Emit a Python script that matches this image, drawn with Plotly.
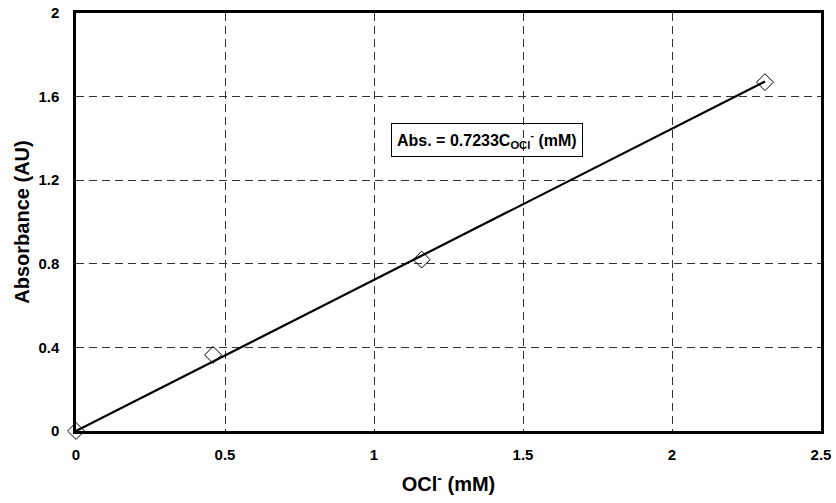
import plotly.graph_objects as go

# Calibration data: hypochlorite concentration vs absorbance
conc_mM = [0.0, 0.46, 1.16, 2.312]
absorbance = [0.0, 0.364, 0.82, 1.669]
slope = 0.7233

x_ticks = [0, 0.5, 1, 1.5, 2, 2.5]
y_ticks = [0, 0.4, 0.8, 1.2, 1.6, 2]

fit_x = [0.0, conc_mM[-1]]
fit_y = [slope * v for v in fit_x]

font_family = "Liberation Sans, Arial, sans-serif"

fig = go.Figure()
fig.add_trace(go.Scatter(
    x=fit_x, y=fit_y, mode="lines",
    line=dict(color="black", width=2.2), showlegend=False, hoverinfo="skip",
))
fig.add_trace(go.Scatter(
    x=conc_mM, y=absorbance, mode="markers", cliponaxis=False,
    marker=dict(symbol="diamond-open", size=13, color="black", line=dict(width=1)),
    showlegend=False,
))

fig.add_annotation(
    x=1.379, y=1.394, xref="x", yref="y",
    text="<b>Abs. = 0.7233C<sub>OCl</sub><sup>-</sup> (mM)</b>",
    showarrow=False, bordercolor="black", borderwidth=1,
    borderpad=5, font=dict(family=font_family, size=16, color="black"),
)

axis_common = dict(
    showline=True, linecolor="black", linewidth=2.5, mirror=True,
    showgrid=True, gridcolor="#333333", gridwidth=1, griddash="8px,5px",
    zeroline=False, ticks="outside", tickcolor="rgba(0,0,0,0)",
    tickfont=dict(family=font_family, size=15, color="black"),
    automargin=False,
)

fig.update_xaxes(
    range=[0, 2.5], tickvals=x_ticks, ticktext=[f"<b>{v:g}</b>" for v in x_ticks],
    ticklen=8,
    title=dict(text="<b>OCl<sup>-</sup> (mM)</b>", font=dict(family=font_family, size=20, color="black"), standoff=16),
    **axis_common,
)
fig.update_yaxes(
    range=[0, 2], tickvals=y_ticks, ticktext=[f"<b>{v:g}</b>" for v in y_ticks],
    ticklen=11,
    title=dict(text="<b>Absorbance (AU)</b>", font=dict(family=font_family, size=20, color="black"), standoff=4),
    **axis_common,
)

fig.update_layout(
    width=836, height=503,
    margin=dict(l=76, r=15, t=13, b=72),
    plot_bgcolor="white", paper_bgcolor="white",
)

fig.write_html("out.html")
